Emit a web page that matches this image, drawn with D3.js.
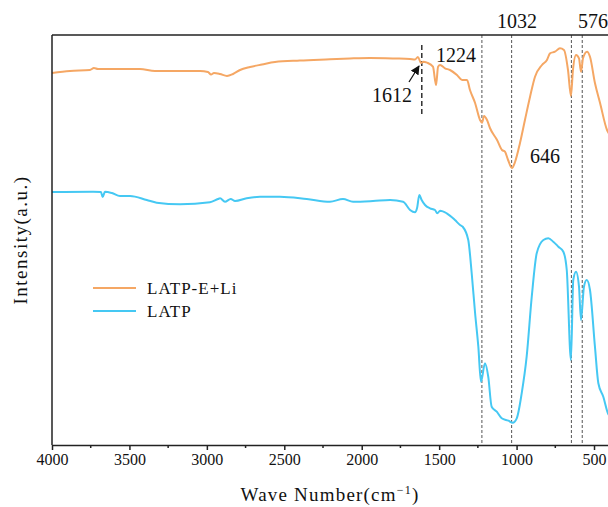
<!DOCTYPE html>
<html>
<head>
<meta charset="utf-8">
<script src="https://cdn.jsdelivr.net/npm/d3@7"></script>
<style>
  body { margin: 0; background: #fff; }
  svg { display: block; }
  text { font-family: "Liberation Serif", "DejaVu Serif", serif; fill: #111; }
</style>
</head>
<body>
<div id="chart"></div>
<script>
// wave number (cm-1) and intensity (a.u.)
var latpELiWn = [4000, 3884, 3755, 3729, 3703, 3432, 3335, 3044, 2993, 2973, 2954, 2915, 2870, 2831, 2786, 2721, 2644, 2560, 2399, 2205, 2076, 1947, 1785, 1688, 1656, 1637, 1617, 1604, 1578, 1540, 1520, 1507, 1494, 1462, 1430, 1385, 1352, 1320, 1301, 1268, 1236, 1223, 1210, 1191, 1172, 1126, 1094, 1075, 1055, 1030, 1010, 978, 946, 913, 881, 836, 804, 784, 752, 720, 694, 668, 649, 636, 616, 597, 584, 571, 545, 526, 494, 461, 416, 384];
var latpELiI = [372, 374, 375, 377, 376, 376, 374, 374, 373, 370.5, 372, 371, 369, 371, 375, 378, 380.5, 383, 384.5, 385.7, 386.5, 387, 386.5, 386, 385.5, 388, 382, 383.3, 382.3, 378.3, 360, 378.3, 380, 376.7, 375, 370, 365, 365, 355, 342, 325, 322.3, 329, 325, 317, 305, 295, 293.3, 285, 277, 283, 302, 325, 348.3, 368.3, 380, 385, 391.7, 393.3, 396.7, 395, 375, 349, 375, 390, 386.7, 373.3, 386.7, 393.3, 388.3, 362, 342, 315, 308];

var latpWn = [4000, 3735, 3684, 3673, 3658, 3613, 3561, 3496, 3388, 3324, 3173, 2980, 2928, 2915, 2883, 2846, 2818, 2743, 2657, 2528, 2355, 2205, 2121, 2056, 1927, 1817, 1733, 1688, 1656, 1643, 1628, 1613, 1591, 1559, 1527, 1512, 1494, 1451, 1398, 1365, 1348, 1312, 1290, 1268, 1247, 1230, 1204, 1183, 1161, 1128, 1096, 1053, 1025, 999, 967, 935, 902, 870, 827, 795, 763, 730, 698, 676, 649, 634, 616, 597, 584, 565, 547, 526, 494, 472, 440, 410, 384];
var latpI = [253, 253.3, 253, 248, 253.3, 252, 249, 249, 245, 242.3, 240.7, 242.7, 246, 246.7, 243.3, 246, 244, 246.7, 248.3, 248.3, 246, 243.3, 246, 243.3, 244, 245, 243.3, 235, 232.7, 236.7, 250, 245, 240, 236.7, 235, 231.7, 234.3, 231.7, 225, 220, 218.3, 205, 172, 132, 98.3, 63.3, 81.7, 68.3, 38.3, 33.3, 26.7, 24.3, 22.3, 26.7, 51.7, 88.3, 148.3, 191.7, 205, 206.7, 203.3, 198.3, 193.3, 175, 85, 165, 173.3, 158.3, 125, 158.3, 165, 155, 98.3, 61.7, 48.3, 31.7, 27];

var seriesNames = ["LATP-E+Li", "LATP"];
var seriesColors = ["#F5A764", "#45C8F3"];

var xTicks = [4000, 3500, 3000, 2500, 2000, 1500, 1000, 500];
var xMinor = [3750, 3250, 2750, 2250, 1750, 1250, 750];
var peakLines = [1224, 1032, 646, 576];
var marker = 1612;

var width = 608, height = 507;
var margin = { left: 52, top: 35, bottom: 62 };

var x = d3.scaleLinear().domain([4000, 400]).range([margin.left, margin.left + 557.5]);
var y = d3.scaleLinear().domain([0, 410]).range([height - margin.bottom, margin.top]);

var svg = d3.select("#chart").append("svg")
  .attr("width", width)
  .attr("height", height);

var line = d3.line()
  .x(function(d) { return x(d[0]); })
  .y(function(d) { return y(d[1]); })
  .curve(d3.curveMonotoneX);

// dashed guides through the peaks
svg.selectAll(".peak")
  .data(peakLines)
  .enter().append("line")
  .attr("class", "peak")
  .attr("x1", function(d) { return x(d); })
  .attr("x2", function(d) { return x(d); })
  .attr("y1", y(410))
  .attr("y2", y(0))
  .attr("stroke", "#555")
  .attr("stroke-width", 1)
  .attr("stroke-dasharray", "3,2");

svg.append("line")
  .attr("x1", x(marker)).attr("x2", x(marker))
  .attr("y1", 45).attr("y2", 115)
  .attr("stroke", "#111")
  .attr("stroke-width", 1.3)
  .attr("stroke-dasharray", "5,3");

var series = [d3.zip(latpELiWn, latpELiI), d3.zip(latpWn, latpI)];

svg.selectAll(".spec")
  .data(series)
  .enter().append("path")
  .attr("class", "spec")
  .attr("d", line)
  .attr("fill", "none")
  .attr("stroke", function(d, i) { return seriesColors[i]; })
  .attr("stroke-width", 2);

// frame
var g = svg.append("g");
g.append("line")
  .attr("x1", margin.left).attr("x2", width)
  .attr("y1", y(410)).attr("y2", y(410))
  .attr("stroke", "#222").attr("stroke-width", 1.5);
g.append("line")
  .attr("x1", margin.left).attr("x2", margin.left)
  .attr("y1", y(410)).attr("y2", y(0))
  .attr("stroke", "#222").attr("stroke-width", 1.5);

var xAxis = d3.axisBottom(x)
  .tickValues(xTicks)
  .tickFormat(d3.format("d"))
  .tickSize(5)
  .tickPadding(4)
  .tickSizeOuter(0);

var ax = svg.append("g")
  .attr("transform", "translate(0," + y(0) + ")")
  .call(xAxis);
ax.select(".domain").attr("stroke", "#222").attr("stroke-width", 1.5);
ax.selectAll(".tick line").attr("stroke", "#222").attr("stroke-width", 1.5);
ax.selectAll(".tick text")
  .style("font-family", "Liberation Serif, serif")
  .style("font-size", "16px")
  .attr("fill", "#111");

ax.selectAll(".minor")
  .data(xMinor)
  .enter().append("line")
  .attr("class", "minor")
  .attr("x1", function(d) { return x(d); })
  .attr("x2", function(d) { return x(d); })
  .attr("y1", 0).attr("y2", 3)
  .attr("stroke", "#222").attr("stroke-width", 1.5);

// axis titles
var xt = svg.append("text")
  .attr("x", 330)
  .attr("y", 501)
  .attr("text-anchor", "middle")
  .style("font-size", "19px")
  .style("letter-spacing", "1.2px");
xt.append("tspan").text("Wave Number(cm");
xt.append("tspan").attr("dy", -7).style("font-size", "12px").text("−1");
xt.append("tspan").attr("dy", 7).text(")");

svg.append("text")
  .attr("transform", "translate(27,240) rotate(-90)")
  .attr("text-anchor", "middle")
  .style("font-size", "19px")
  .style("letter-spacing", "1.5px")
  .text("Intensity(a.u.)");

// legend
var legend = svg.append("g").attr("transform", "translate(93,288)");
seriesNames.forEach(function(name, i) {
  legend.append("line")
    .attr("x1", 0).attr("x2", 43)
    .attr("y1", i * 23).attr("y2", i * 23)
    .attr("stroke", seriesColors[i])
    .attr("stroke-width", 2);
  legend.append("text")
    .attr("x", 54)
    .attr("y", i * 23 + 6)
    .style("font-size", "17px")
    .style("letter-spacing", "1px")
    .text(name);
});

// peak labels
var labels = [
  { t: "1032", x: 517, y: 28 },
  { t: "576", x: 593, y: 28 },
  { t: "1224", x: 456, y: 62 },
  { t: "1612", x: 392, y: 102 },
  { t: "646", x: 545, y: 163 }
];
svg.selectAll(".lbl")
  .data(labels)
  .enter().append("text")
  .attr("class", "lbl")
  .attr("x", function(d) { return d.x; })
  .attr("y", function(d) { return d.y; })
  .attr("text-anchor", "middle")
  .style("font-size", "20px")
  .text(function(d) { return d.t; });

// arrow to 1612
svg.append("defs").append("marker")
  .attr("id", "arr")
  .attr("viewBox", "0 0 10 10")
  .attr("refX", 9).attr("refY", 5)
  .attr("markerWidth", 7).attr("markerHeight", 7)
  .attr("orient", "auto")
  .append("path")
  .attr("d", "M0,0L10,5L0,10z")
  .attr("fill", "#111");

svg.append("line")
  .attr("x1", 409).attr("y1", 82)
  .attr("x2", 419).attr("y2", 66)
  .attr("stroke", "#111")
  .attr("stroke-width", 1.3)
  .attr("marker-end", "url(#arr)");
</script>
</body>
</html>
